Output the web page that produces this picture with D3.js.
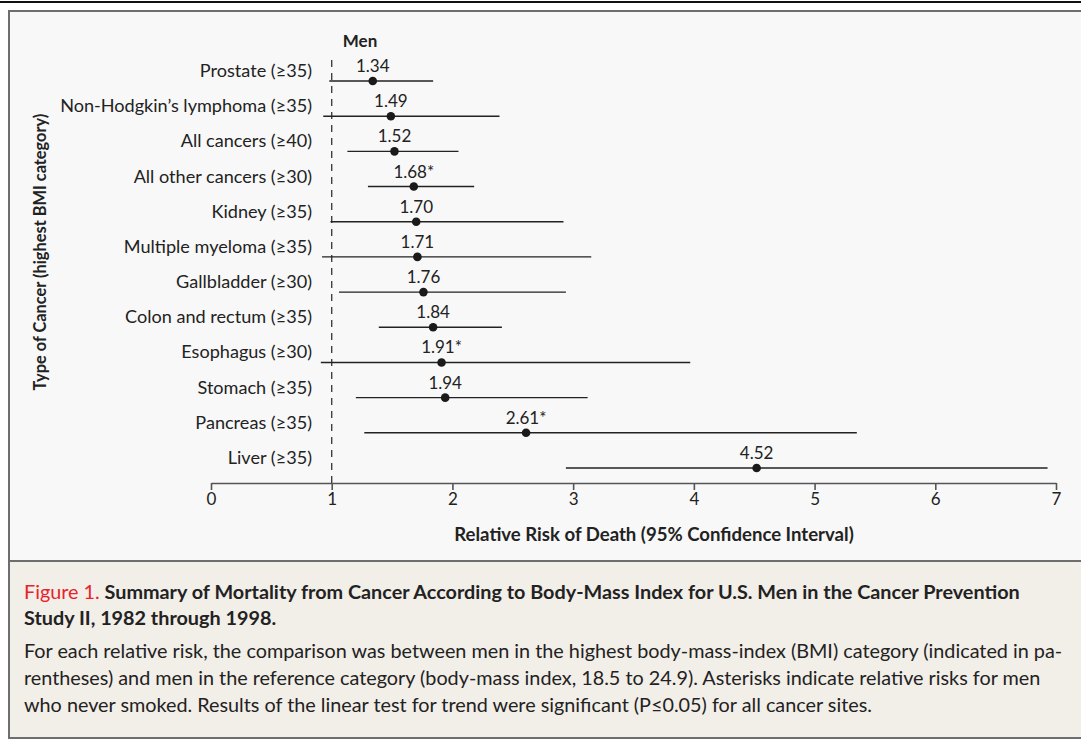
<!DOCTYPE html>
<html><head><meta charset="utf-8">
<script src="https://cdn.jsdelivr.net/npm/d3@7"></script>
<style>
html,body{margin:0;padding:0;background:#fff;}
svg{display:block;}
text{font-family:Lato,"Open Sans",sans-serif;fill:#222;}
</style></head>
<body>
<svg id="chart" width="1081" height="740"></svg>
<script>
const categories = ["Prostate (\u226535)","Non-Hodgkin\u2019s lymphoma (\u226535)","All cancers (\u226540)","All other cancers (\u226530)","Kidney (\u226535)","Multiple myeloma (\u226535)","Gallbladder (\u226530)","Colon and rectum (\u226535)","Esophagus (\u226530)","Stomach (\u226535)","Pancreas (\u226535)","Liver (\u226535)"];
const relativeRisk = [1.34,1.49,1.52,1.68,1.70,1.71,1.76,1.84,1.91,1.94,2.61,4.52];
const ciLower = [0.98,0.93,1.13,1.30,0.99,0.92,1.06,1.39,0.91,1.20,1.27,2.94];
const ciUpper = [1.84,2.39,2.05,2.18,2.92,3.15,2.94,2.41,3.97,3.12,5.35,6.93];
const neverSmoked = [false,false,false,true,false,false,false,false,true,false,true,false];
const xTicks = [0,1,2,3,4,5,6,7];
const referenceValue = 1;
const panelTitle = "Men";
const xTitle = "Relative Risk of Death (95% Confidence Interval)";
const yTitle = "Type of Cancer (highest BMI category)";
const figLabel = "Figure 1.";
const figTitle1 = " Summary of Mortality from Cancer According to Body-Mass Index for U.S. Men in the Cancer Prevention";
const figTitle2 = "Study II, 1982 through 1998.";
const figBody = ["For each relative risk, the comparison was between men in the highest body-mass-index (BMI) category (indicated in pa-",
"rentheses) and men in the reference category (body-mass index, 18.5 to 24.9). Asterisks indicate relative risks for men",
"who never smoked. Results of the linear test for trend were significant (P\u22640.05) for all cancer sites."];

const svg = d3.select("#chart");
function fit(sel, target){
  const w = sel.node().getComputedTextLength();
  const fs = parseFloat(sel.attr("font-size"));
  const nf = fs*target/w;
  sel.attr("font-size", nf);
  return nf;
}

// frame
svg.append("rect").attr("x",0).attr("y",1).attr("width",1081).attr("height",2).attr("fill","#111");
svg.append("rect").attr("x",9).attr("y",11).attr("width",1080).attr("height",550)
  .attr("fill","#f8f8f8").attr("stroke","#6e6e6e").attr("stroke-width",2);
svg.append("rect").attr("x",9).attr("y",561).attr("width",1080).attr("height",177)
  .attr("fill","#f2eee8").attr("stroke","#6e6e6e").attr("stroke-width",2);

const x = d3.scaleLinear().domain([0,7]).range([211,1056]);
const y = d3.scalePoint().domain(categories).range([81,468]);

// reference dashed line
svg.append("line").attr("x1",x(referenceValue)).attr("x2",x(referenceValue))
  .attr("y1",60).attr("y2",483).attr("stroke","#333").attr("stroke-width",1.3)
  .attr("stroke-dasharray","7,6");

// axis
const ax = svg.append("g").attr("transform","translate(0,483)")
  .call(d3.axisBottom(x).tickValues(xTicks).tickSize(7).tickSizeOuter(0).tickFormat(d3.format("d")));
ax.attr("font-size",null).attr("font-family",null);
ax.select(".domain").attr("stroke","#555").attr("stroke-width",1.6);
ax.selectAll(".tick line").attr("stroke","#555").attr("stroke-width",1.6);
ax.selectAll(".tick text").style("font-size","17px").style("font-family","Lato").style("fill","#222").attr("y",9).attr("dy","0.78em");

// rows
const rows = svg.append("g").selectAll("g").data(categories).join("g");
rows.append("line").attr("x1",(d,i)=>x(ciLower[i])).attr("x2",(d,i)=>x(ciUpper[i]))
  .attr("y1",d=>y(d)).attr("y2",d=>y(d)).attr("stroke","#222").attr("stroke-width",1.4);
rows.append("circle").attr("cx",(d,i)=>x(relativeRisk[i])).attr("cy",d=>y(d)).attr("r",4.3).attr("fill","#1a1a1a");
rows.append("text").attr("x",(d,i)=>x(relativeRisk[i])).attr("y",d=>y(d)-9)
  .attr("text-anchor","middle").attr("font-size",17)
  .text((d,i)=>relativeRisk[i].toFixed(2)+(neverSmoked[i]?"*":""));
const labels = rows.append("text").attr("x",312).attr("y",d=>y(d)-4)
  .attr("text-anchor","end").attr("font-size",16).text(d=>d);
// fit label size from longest label
const longest = labels.filter((d,i)=>i===1);
const lfs = fit(longest, 252);
labels.attr("font-size",lfs);

// panel title
svg.append("text").attr("x",360).attr("y",47).attr("text-anchor","middle")
  .attr("font-size",17).attr("font-weight",700).text(panelTitle);

// axis titles
const xt = svg.append("text").attr("x",654).attr("y",541).attr("text-anchor","middle")
  .attr("font-size",17).attr("font-weight",700).text(xTitle);
fit(xt, 400);
const yt = svg.append("text").attr("transform","translate(46,252) rotate(-90)").attr("text-anchor","middle")
  .attr("font-size",16).attr("font-weight",700).text(yTitle);
fit(yt, 277);

// caption
const t1 = svg.append("text").attr("x",24).attr("y",599).attr("font-size",17).attr("font-weight",700);
t1.append("tspan").attr("fill","#e8232b").attr("font-weight",400).text(figLabel);
t1.append("tspan").text(figTitle1);
const tfs = fit(t1, 996);
svg.append("text").attr("x",24).attr("y",625).attr("font-size",tfs).attr("font-weight",700).text(figTitle2);
const b0 = svg.append("text").attr("x",24).attr("y",658).attr("font-size",17).text(figBody[0]);
const bfs = fit(b0, 1039);
figBody.slice(1).forEach((s,i)=>{
  svg.append("text").attr("x",24).attr("y",685+27*i).attr("font-size",bfs).text(s);
});
</script>
</body></html>
